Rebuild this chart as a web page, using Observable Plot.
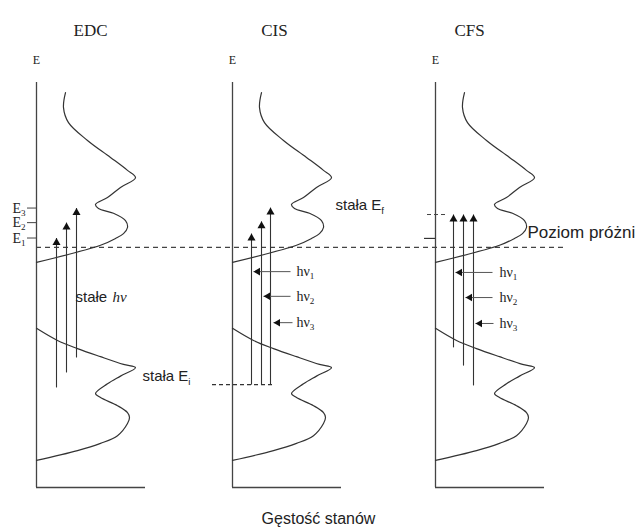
<!DOCTYPE html>
<html><head><meta charset="utf-8">
<script src="https://cdn.jsdelivr.net/npm/d3@7"></script>
<script src="https://cdn.jsdelivr.net/npm/@observablehq/plot@0.6"></script>
<style>html,body{margin:0;padding:0;background:#fff;}</style>
</head><body><div id="chart"></div>
<script>
// ---- data (arbitrary units: density of states on x, energy on y) ----
const panels = ["EDC", "CIS", "CFS"];
const panelAxisX = [3.6, 23.2, 43.5];       // where each panel's energy axis sits
const axisTopE = 100;
const axisLength = 10.9;
const fermiLevel = 59.3;
const fermiLineEnd = 56.3;

const upperDensity = [2.9, 2.7, 3.2, 5.1, 7.4, 9.1, 9.9, 8.4, 7.1, 5.9, 6.2, 7.7, 8.9, 9.1, 8.7, 7.9, 6.4, 0];
const upperEnergy  = [97.5, 93.8, 90.1, 85.7, 81.5, 78.3, 76.5, 74.1, 71.6, 69.9, 68.9, 67.7, 65.9, 64.2, 62.7, 61.5, 59.8, 55.6];
const lowerDensity = [0, 2.1, 4.1, 6.4, 8.7, 9.9, 8.4, 7.1, 5.9, 6.4, 8.1, 9.1, 9.3, 9.1, 8.1, 6.4, 4.1, 0];
const lowerEnergy  = [39.3, 36.3, 34.3, 32.3, 30.4, 29.6, 27.5, 25.6, 23.2, 22.2, 20.2, 18.5, 17.3, 15.8, 12.8, 10.9, 9.1, 6.7];

// EDC
const edcLevelLabels = ["E_1", "E_2", "E_3"];
const edcLevels = [61.6, 65.4, 69.0];
const edcArrowDensity = [2.0, 3.0, 4.0];
const edcArrowStart = [24.7, 28.4, 32.1];

// CIS
const cisArrowDensity = [1.9, 2.9, 3.8];
const cisInitial = 25.4;
const cisFinal = [62.7, 65.7, 69.1];
const cisInitialLine = [-2.0, 4.1];
const cisPhotonEnergy = [53.3, 47.2, 40.7];
const cisPhotonFrom = [5.8, 5.8, 6.0];
const cisPhotonTip = [2.1, 3.1, 4.1];

// CFS
const cfsArrowDensity = [1.8, 2.8, 3.8];
const cfsFinal = 67.4;
const cfsStart = [34.6, 30.1, 25.2];
const cfsPhotonEnergy = [53.1, 46.9, 40.5];
const cfsPhotonFrom = [5.7, 5.7, 5.8];
const cfsPhotonTip = [2.0, 3.0, 4.0];
const cfsFinalTick = [-0.8, 1.3];
const cfsVacuumTick = [-1.1, 0];
const cfsVacuumLevel = 61.5;

const photonLabels = ["hν_1", "hν_2", "hν_3"];
const photonLabelX = 6.4;

// ---- build tables ----
const dosRows = [];
panels.forEach((p, pi) => {
  [["upper", upperDensity, upperEnergy], ["lower", lowerDensity, lowerEnergy]].forEach(([band, ds, es]) => {
    ds.forEach((d, k) => dosRows.push({key: p + band, x: panelAxisX[pi] + d, E: es[k]}));
  });
});

const ax = panelAxisX;
const vArrows = [];
edcArrowDensity.forEach((d, i) => vArrows.push({x: ax[0] + d, y1: edcArrowStart[i], y2: edcLevels[i]}));
cisArrowDensity.forEach((d, i) => vArrows.push({x: ax[1] + d, y1: cisInitial, y2: cisFinal[i]}));
cfsArrowDensity.forEach((d, i) => vArrows.push({x: ax[2] + d, y1: cfsStart[i], y2: cfsFinal}));

const hArrows = [];
cisPhotonEnergy.forEach((e, i) => hArrows.push({x1: ax[1] + cisPhotonFrom[i], x2: ax[1] + cisPhotonTip[i], y: e, label: photonLabels[i], lx: ax[1] + photonLabelX}));
cfsPhotonEnergy.forEach((e, i) => hArrows.push({x1: ax[2] + cfsPhotonFrom[i], x2: ax[2] + cfsPhotonTip[i], y: e, label: photonLabels[i], lx: ax[2] + photonLabelX}));

const edcTicks = edcLevels.map((e, i) => ({y: e, label: edcLevelLabels[i]}));

const ink = "#333";
const serif = "Liberation Serif, Times New Roman, serif";
const sans = "Liberation Sans, Arial, sans-serif";

const chart = Plot.plot({
  width: 641,
  height: 532,
  margin: 0,
  x: {domain: [0, 64.1], range: [0, 641], axis: null},
  y: {domain: [0, 100], range: [487, 82], axis: null},
  marks: [
    // energy axes and density axes
    Plot.ruleX(ax, {x: d => d, y1: 0, y2: axisTopE, stroke: "#444", strokeWidth: 1.3}),
    Plot.ruleY(ax, {y: 0, x1: d => d, x2: d => d + axisLength, stroke: "#444", strokeWidth: 1.3}),
    // Fermi level dashed line
    Plot.ruleY([fermiLevel], {x1: ax[0], x2: fermiLineEnd, stroke: "#444", strokeWidth: 1.1, strokeDasharray: "5,4"}),
    // density of states curves
    Plot.line(dosRows, {x: "x", y: "E", z: "key", curve: "catmull-rom", stroke: ink, strokeWidth: 1.2}),
    // EDC level ticks
    Plot.ruleY(edcTicks, {y: "y", x1: ax[0] - 0.9, x2: ax[0], stroke: "#444", strokeWidth: 1}),
    Plot.text(edcTicks, {x: ax[0] - 1.1, y: "y", text: "label", textAnchor: "end", fontFamily: serif, fontSize: 14, fill: "#222"}),
    // CIS constant initial state dashed line
    Plot.ruleY([cisInitial], {x1: ax[1] + cisInitialLine[0], x2: ax[1] + cisInitialLine[1], stroke: "#333", strokeWidth: 1.2, strokeDasharray: "4,3"}),
    // CFS final / vacuum ticks
    Plot.ruleY([cfsFinal], {x1: ax[2] + cfsFinalTick[0], x2: ax[2] + cfsFinalTick[1], stroke: "#444", strokeWidth: 1, strokeDasharray: "4,3"}),
    Plot.ruleY([cfsVacuumLevel], {x1: ax[2] + cfsVacuumTick[0], x2: ax[2] + cfsVacuumTick[1], stroke: "#333", strokeWidth: 1.2}),
    // vertical transition arrows
    Plot.link(vArrows, {x1: "x", x2: "x", y1: "y1", y2: "y2", stroke: ink, strokeWidth: 1.1}),
    Plot.dot(vArrows, {x: "x", y: "y2", symbol: "triangle", r: 3, fill: "#111", stroke: "none", dy: 4.6}),
    // photon arrows
    Plot.link(hArrows, {x1: "x1", x2: "x2", y1: "y", y2: "y", stroke: "#555", strokeWidth: 1}),
    Plot.dot(hArrows, {x: "x2", y: "y", symbol: "triangle", r: 2.8, rotate: -90, fill: "#111", stroke: "none", dx: 4.35}),
    Plot.text(hArrows, {x: "lx", y: "y", text: "label", textAnchor: "start", fontFamily: serif, fontSize: 14, fill: "#222"}),
    // titles
    Plot.text(panels, {x: (d, i) => [9.0, 27.4, 46.9][i], y: 112.8, text: d => d, fontFamily: serif, fontSize: 17, fill: "#222"}),
    Plot.text(ax, {x: d => d, y: 105.4, text: () => "E", fontFamily: serif, fontSize: 12, fill: "#222"}),
    // annotations
    Plot.text(["stałe"], {x: 7.5, y: 46.9, text: d => d, textAnchor: "start", fontFamily: sans, fontSize: 15, fill: "#222"}),
    Plot.text(["hν"], {x: 11.2, y: 46.9, text: d => d, textAnchor: "start", fontFamily: serif, fontStyle: "italic", fontSize: 15, fill: "#222"}),
    Plot.text(["stała E_i"], {x: 14.2, y: 27.4, text: d => d, textAnchor: "start", fontFamily: sans, fontSize: 15, fill: "#222"}),
    Plot.text(["stała E_f"], {x: 33.5, y: 69.6, text: d => d, textAnchor: "start", fontFamily: sans, fontSize: 15, fill: "#222"}),
    Plot.text(["Poziom próżni"], {x: 52.7, y: 63.0, text: d => d, textAnchor: "start", fontFamily: sans, fontSize: 17, fill: "#222"}),
    Plot.text(["Gęstość stanów"], {x: 31.8, y: -7.7, text: d => d, fontFamily: sans, fontSize: 16, fill: "#222"})
  ]
});

// turn "X_s" into X with subscript s
const ns = "http://www.w3.org/2000/svg";
chart.querySelectorAll("text").forEach(t => {
  const s = t.textContent;
  const i = s.indexOf("_");
  if (i < 0) return;
  t.textContent = "";
  const a = document.createElementNS(ns, "tspan");
  a.textContent = s.slice(0, i);
  const b = document.createElementNS(ns, "tspan");
  b.textContent = s.slice(i + 1);
  b.setAttribute("font-size", "0.65em");
  b.setAttribute("dy", "0.35em");
  t.append(a, b);
});
document.getElementById("chart").append(chart);
</script>
</body></html>
